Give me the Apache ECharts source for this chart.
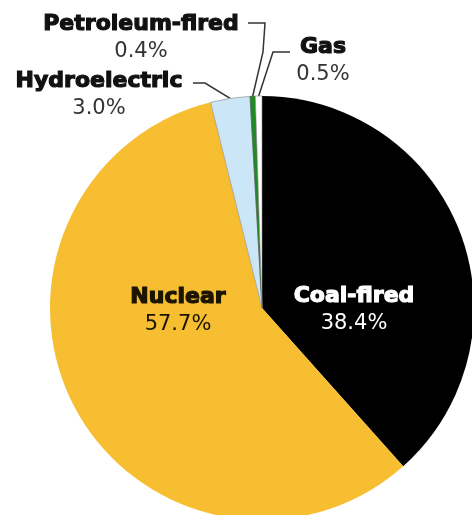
<!DOCTYPE html>
<html>
<head>
<meta charset="utf-8">
<script src="https://cdn.jsdelivr.net/npm/echarts@6/dist/echarts.min.js"></script>
<style>
  html, body { margin: 0; padding: 0; background: #fff; }
  #chart { width: 472px; height: 515px; }
</style>
</head>
<body>
<div id="chart"></div>
<script>
// ---- data ----
const categories = ['Coal-fired', 'Nuclear', 'Hydroelectric', 'Petroleum-fired', 'Gas'];
const shares = [38.4, 57.7, 3.0, 0.4, 0.5];

// ---- styling / layout (not data) ----
const sliceColors = {
  'Coal-fired': '#000000',
  'Nuclear': '#F6BE30',
  'Hydroelectric': '#CBE6F6',
  'Petroleum-fired': '#1E8C22',
  'Gas': '#FFFFFF'
};
const sliceBorders = {
  'Hydroelectric': '#8a8a8a',
  'Petroleum-fired': '#555',
  'Gas': '#8a8a8a'
};
const labelPlace = {
  'Coal-fired':      { x: 354, y: 310, inside: true, color: '#ffffff' },
  'Nuclear':         { x: 178, y: 311, inside: true, color: '#1a1400' },
  'Hydroelectric':   { x: 99,  y: 95,  line: [[205, 83], [193, 83]] },
  'Petroleum-fired': { x: 141, y: 38,  line: [[263, 52], [265, 23], [248, 23]] },
  'Gas':             { x: 323, y: 61,  line: [[273, 52], [290, 52]] }
};

const chart = echarts.init(document.getElementById('chart'), null, { renderer: 'canvas' });

const data = categories.map((name, i) => {
  const place = labelPlace[name];
  const inside = !!place.inside;
  const txt = place.color || '#111';
  return {
    name: name,
    value: shares[i],
    itemStyle: {
      color: sliceColors[name],
      borderColor: sliceBorders[name] || sliceColors[name],
      borderWidth: sliceBorders[name] ? 0.6 : 0
    },
    label: {
      show: true,
      position: inside ? 'inside' : 'outside',
      formatter: (p) => '{n|' + p.name + '}\n{p|' + p.value.toFixed(1) + '%}',
      rich: {
        n: {
          fontFamily: 'DejaVu Sans',
          fontWeight: 'bold',
          fontSize: inside ? 22 : 22,
          color: txt,
          textBorderColor: txt,
          textBorderWidth: 1.2,
          lineHeight: inside ? 28 : 27,
          align: 'center'
        },
        p: {
          fontFamily: 'DejaVu Sans',
          fontSize: 21,
          color: inside ? txt : '#333',
          lineHeight: inside ? 28 : 27,
          align: 'center'
        }
      }
    },
    labelLine: {
      show: !inside,
      lineStyle: { color: '#333', width: 1.5 }
    }
  };
});

chart.setOption({
  animation: false,
  backgroundColor: '#ffffff',
  series: [{
    type: 'pie',
    center: [262, 308],
    radius: [0, 212],
    startAngle: 90,
    clockwise: true,
    avoidLabelOverlap: false,
    emphasis: { disabled: true },
    labelLine: { length: 10, length2: 10 },
    data: data,
    labelLayout: function (params) {
      const name = categories[params.dataIndex];
      const place = labelPlace[name];
      const out = { x: place.x, y: place.y, align: 'center', verticalAlign: 'middle' };
      if (place.line && params.labelLinePoints) {
        const start = params.labelLinePoints[0];
        out.labelLinePoints = [start].concat(place.line);
      }
      return out;
    }
  }]
});
</script>
</body>
</html>
